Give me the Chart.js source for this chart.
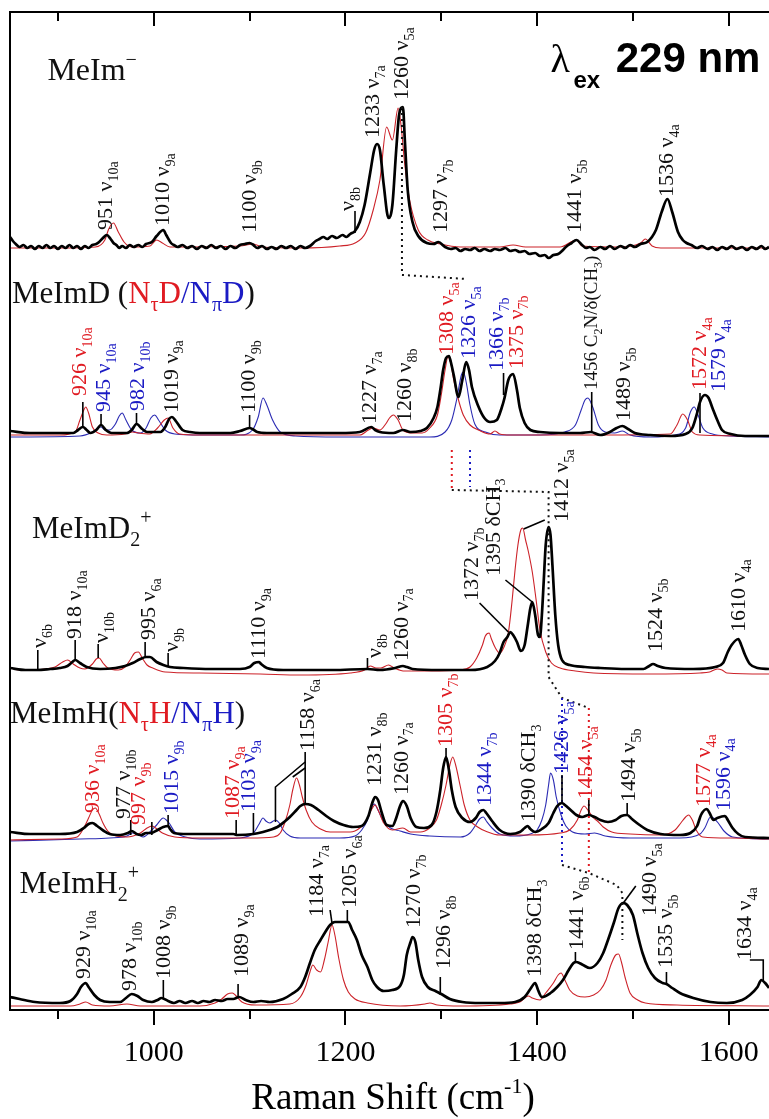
<!DOCTYPE html>
<html><head><meta charset="utf-8">
<script src="https://cdn.jsdelivr.net/npm/chart.js@4.4.0/dist/chart.umd.min.js"></script>
<style>html,body{margin:0;padding:0;background:#fff;}canvas{display:block;}</style>
</head><body>
<canvas id="c" width="769" height="1119"></canvas>
<script>
// ---------- axis ----------
const xTicks = [900,1000,1100,1200,1300,1400,1500,1600];
const tickLabels = ['1000','1200','1400','1600'];

// ---------- spectra [Raman shift cm-1, intensity (stacked, a.u.)] ----------
const meIm_exp = [[850,773],[853,769],[856,766],[860,763],[864,765],[868,762],[872,764],[876,761],[880,764],[884,762],[888,765],[892,762],[896,764],[900,761],[904,764],[908,762],[912,765],[916,762],[920,764],[924,761],[928,764],[932,762],[936,765],[940,766],[943,768],[947,772],[951,775],[955,771],[958,767],[961,765],[964,762],[967,764],[971,762],[975,765],[979,763],[984,765],[988,763],[992,766],[998,768],[1003,774],[1010,780],[1013,775],[1018,767],[1021,765],[1025,763],[1030,765],[1035,762],[1040,764],[1045,761],[1050,764],[1055,762],[1060,765],[1065,762],[1070,764],[1075,761],[1080,764],[1085,762],[1090,765],[1095,766],[1100,767],[1104,765],[1108,762],[1113,764],[1118,761],[1123,763],[1128,761],[1133,764],[1138,762],[1143,764],[1148,761],[1153,764],[1158,762],[1163,764],[1169,769],[1173,771],[1177,773],[1181,771],[1186,774],[1191,772],[1197,775],[1201,773],[1205,776],[1210,779],[1215,788],[1220,805],[1226,838],[1230,860],[1233,866],[1236,860],[1240,825],[1245,792],[1249,805],[1253,860],[1256,895],[1260,903],[1262,870],[1265,820],[1270,788],[1276,774],[1285,767],[1292,766],[1297,768],[1304,763],[1310,761],[1315,762],[1320,759],[1325,761],[1330,760],[1335,762],[1340,759],[1345,761],[1351,759],[1356,761],[1361,760],[1367,762],[1372,759],[1377,760],[1382,758],[1387,759],[1392,756],[1398,757],[1403,754],[1408,755],[1412,752],[1417,755],[1422,756],[1426,759],[1430,763],[1436,767],[1441,770],[1447,765],[1451,762],[1455,763],[1460,760],[1466,763],[1471,761],[1476,764],[1481,761],[1487,764],[1492,762],[1497,765],[1502,763],[1508,766],[1515,768],[1524,780],[1530,798],[1536,811],[1541,798],[1547,778],[1552,770],[1556,767],[1561,765],[1567,762],[1572,764],[1578,761],[1583,763],[1588,760],[1593,763],[1598,761],[1603,764],[1608,761],[1614,763],[1619,760],[1624,763],[1629,761],[1634,764],[1638,761],[1642,763]];
const meIm_calc = [[850,762],[902,762],[939,763],[949,770],[953,781],[958,787],[963,778],[969,768],[977,763],[996,764],[1003,770],[1009,767],[1017,763],[1090,764],[1104,766],[1113,763],[1153,762],[1194,764],[1210,767],[1221,777],[1229,800],[1236,830],[1243,883],[1249,870],[1255,902],[1258,885],[1262,845],[1267,810],[1276,780],[1286,770],[1299,766],[1320,763],[1361,763],[1375,765],[1388,763],[1424,763],[1441,770],[1447,764],[1487,763],[1508,767],[1513,771],[1520,764],[1529,762],[1642,762]];

const meImD_exp = [[850,579],[871,577],[902,577],[916,577],[921,580],[926,583],[930,580],[934,577],[940,580],[945,585],[950,580],[956,577],[972,577],[977,580],[982,586],[988,581],[993,578],[1007,578],[1012,583],[1016,591],[1019,593],[1023,589],[1030,580],[1038,578],[1048,577],[1080,577],[1090,579],[1100,582],[1103,581],[1108,578],[1118,577],[1153,577],[1194,577],[1215,578],[1227,583],[1231,580],[1236,578],[1250,577],[1260,580],[1268,578],[1278,579],[1285,582],[1292,592],[1296,603],[1299,620],[1302,640],[1305,652],[1308,654],[1310,648],[1313,635],[1318,613],[1322,630],[1326,648],[1329,640],[1332,623],[1339,603],[1345,592],[1351,588],[1358,590],[1363,602],[1366,612],[1370,630],[1375,636],[1379,620],[1382,602],[1387,587],[1393,580],[1403,578],[1424,577],[1445,577],[1456,578],[1466,575],[1476,578],[1483,582],[1489,584],[1495,581],[1502,577],[1518,575],[1539,574],[1555,576],[1562,582],[1567,597],[1570,608],[1575,615],[1579,612],[1583,602],[1588,590],[1593,580],[1602,576],[1617,574],[1642,574]];
const meImD_NtD = [[850,575],[902,575],[918,578],[923,590],[927,600],[929,603],[932,597],[936,583],[942,577],[951,575],[970,576],[978,578],[984,577],[996,576],[1004,582],[1011,590],[1015,592],[1020,582],[1027,576],[1048,575],[1153,575],[1215,575],[1224,580],[1229,582],[1236,580],[1242,586],[1246,592],[1250,595],[1255,590],[1260,580],[1270,577],[1280,577],[1288,582],[1296,595],[1300,615],[1304,640],[1307,653],[1310,647],[1313,630],[1318,610],[1323,595],[1330,585],[1341,579],[1351,576],[1356,579],[1361,576],[1372,575],[1466,575],[1539,576],[1546,585],[1552,596],[1557,590],[1562,578],[1570,575],[1642,574]];
const meImD_NpD = [[850,573],[923,574],[936,578],[942,582],[945,583],[949,580],[954,580],[960,586],[964,594],[967,597],[971,590],[977,580],[986,577],[992,582],[997,592],[1001,595],[1005,590],[1012,580],[1022,576],[1048,575],[1090,575],[1103,580],[1109,593],[1114,612],[1118,605],[1124,590],[1132,578],[1148,574],[1194,573],[1288,573],[1304,578],[1311,590],[1316,610],[1321,635],[1323,638],[1326,628],[1330,605],[1335,586],[1346,578],[1361,575],[1403,575],[1429,578],[1440,585],[1446,600],[1450,610],[1453,612],[1458,603],[1464,585],[1471,578],[1481,577],[1489,579],[1497,575],[1518,573],[1544,575],[1555,582],[1560,598],[1564,603],[1568,595],[1573,582],[1583,576],[1601,574],[1642,573]];

const meImD2_exp = [[850,342],[866,340],[878,340],[892,341],[902,342],[910,344],[915,348],[918,350],[923,347],[930,343],[944,341],[960,342],[970,344],[978,347],[986,351],[992,353],[996,353],[1003,348],[1010,345],[1017,343],[1031,342],[1059,341],[1090,341],[1100,343],[1105,347],[1110,348],[1112,346],[1118,342],[1135,340],[1187,340],[1223,341],[1236,340],[1252,342],[1260,344],[1264,343],[1270,341],[1299,340],[1330,340],[1348,343],[1356,349],[1361,357],[1365,368],[1369,373],[1372,378],[1375,375],[1379,368],[1383,359],[1387,365],[1390,383],[1393,402],[1395,408],[1398,395],[1401,375],[1403,373],[1405,395],[1407,430],[1409,465],[1412,483],[1414,475],[1416,445],[1419,395],[1422,365],[1426,350],[1434,345],[1450,343],[1466,342],[1492,341],[1511,341],[1517,344],[1521,346],[1526,344],[1534,342],[1563,341],[1586,343],[1594,347],[1599,358],[1603,365],[1610,371],[1613,365],[1617,355],[1622,346],[1630,342],[1642,341]];
const meImD2_calc = [[850,342],[860,340],[887,341],[897,343],[905,348],[910,350],[916,346],[923,342],[928,341],[936,346],[940,351],[943,352],[947,347],[952,342],[963,340],[970,343],[976,351],[980,357],[984,358],[988,352],[993,345],[999,342],[1012,338],[1048,337],[1111,336],[1153,335],[1205,337],[1220,340],[1226,344],[1232,342],[1237,342],[1245,345],[1251,342],[1262,339],[1288,339],[1320,340],[1330,343],[1337,352],[1343,365],[1346,374],[1350,377],[1352,372],[1356,363],[1361,357],[1365,362],[1370,377],[1374,410],[1377,440],[1380,465],[1383,480],[1385,482],[1388,470],[1391,458],[1395,438],[1399,410],[1403,380],[1409,358],[1415,347],[1424,342],[1440,339],[1459,337],[1518,336],[1570,337],[1580,338],[1588,341],[1593,340],[1598,337],[1642,336]];

const meImH_exp = [[850,178],[871,176],[902,176],[920,178],[927,182],[932,186],[936,187],[941,184],[948,179],[954,176],[965,175],[973,177],[977,179],[982,176],[987,175],[992,177],[997,177],[1004,180],[1010,183],[1015,184],[1017,181],[1021,177],[1035,176],[1059,176],[1083,176],[1087,175],[1104,176],[1114,178],[1121,180],[1129,183],[1136,188],[1142,193],[1149,200],[1153,204],[1158,206],[1164,205],[1172,200],[1180,194],[1188,189],[1198,185],[1208,183],[1217,184],[1224,194],[1228,207],[1231,213],[1234,210],[1238,197],[1243,185],[1249,184],[1253,192],[1257,204],[1260,209],[1264,204],[1268,192],[1274,183],[1282,182],[1290,185],[1295,198],[1299,220],[1302,242],[1305,253],[1308,240],[1311,220],[1315,203],[1322,192],[1330,188],[1336,192],[1340,198],[1344,200],[1347,197],[1353,189],[1361,180],[1372,176],[1382,178],[1387,182],[1390,184],[1393,181],[1398,178],[1405,181],[1412,187],[1417,197],[1421,204],[1426,207],[1429,205],[1435,200],[1441,195],[1447,193],[1454,195],[1460,193],[1466,190],[1474,188],[1482,190],[1488,194],[1494,195],[1499,191],[1507,185],[1515,180],[1529,176],[1549,175],[1560,177],[1567,184],[1571,195],[1577,201],[1580,197],[1584,190],[1588,192],[1596,194],[1599,190],[1604,182],[1610,176],[1617,173],[1642,172]];
const meImH_NtH = [[850,170],[902,171],[920,173],[927,182],[932,192],[936,200],[939,202],[943,196],[947,187],[952,179],[958,175],[972,173],[986,177],[993,182],[998,184],[1002,182],[1009,177],[1022,173],[1048,172],[1100,172],[1125,173],[1132,177],[1137,188],[1142,205],[1145,220],[1149,232],[1152,225],[1155,213],[1159,200],[1165,188],[1174,181],[1184,178],[1205,178],[1215,182],[1222,190],[1227,200],[1231,205],[1235,198],[1240,187],[1249,180],[1260,182],[1268,178],[1278,178],[1288,182],[1295,190],[1300,205],[1305,225],[1309,245],[1312,253],[1315,245],[1320,223],[1324,205],[1330,190],[1338,183],[1346,179],[1361,175],[1392,175],[1424,177],[1434,180],[1442,190],[1446,200],[1449,204],[1453,200],[1458,193],[1464,188],[1469,183],[1478,178],[1497,176],[1529,175],[1544,180],[1550,187],[1555,193],[1558,195],[1562,190],[1566,180],[1573,173],[1602,172],[1642,171]];
const meImH_NpH = [[850,169],[923,171],[954,172],[972,174],[978,177],[984,175],[989,173],[998,180],[1003,185],[1010,192],[1013,190],[1016,187],[1022,178],[1033,173],[1048,171],[1090,172],[1104,177],[1110,186],[1114,192],[1117,189],[1121,187],[1127,190],[1131,187],[1135,180],[1142,174],[1153,172],[1194,172],[1210,174],[1217,180],[1223,190],[1227,202],[1230,206],[1234,200],[1239,190],[1247,182],[1257,179],[1268,176],[1288,174],[1320,173],[1330,177],[1336,185],[1340,191],[1344,193],[1347,189],[1353,182],[1361,176],[1377,174],[1393,176],[1400,180],[1405,190],[1409,205],[1412,225],[1414,237],[1417,230],[1420,213],[1425,195],[1430,184],[1437,178],[1450,176],[1460,177],[1471,174],[1497,172],[1549,172],[1570,176],[1575,182],[1581,193],[1584,192],[1589,187],[1595,179],[1604,173],[1642,171]];

const meImH2_exp = [[850,13],[860,11],[876,8],[902,7],[913,9],[920,16],[924,23],[929,27],[932,23],[938,15],[944,10],[954,8],[965,8],[971,12],[977,16],[983,14],[989,10],[998,8],[1004,10],[1008,12],[1015,9],[1021,7],[1027,9],[1033,7],[1040,9],[1046,7],[1052,9],[1058,8],[1064,10],[1071,9],[1077,11],[1083,11],[1089,13],[1096,10],[1104,8],[1112,9],[1121,8],[1135,11],[1144,16],[1153,23],[1158,33],[1163,47],[1168,60],[1174,70],[1179,78],[1184,85],[1189,88],[1196,88],[1203,88],[1207,80],[1212,70],[1217,55],[1223,43],[1228,30],[1233,23],[1240,19],[1249,20],[1257,24],[1261,35],[1264,55],[1268,68],[1270,73],[1273,68],[1276,50],[1280,33],[1286,23],[1294,19],[1300,16],[1309,11],[1322,8],[1341,7],[1361,7],[1377,8],[1387,13],[1393,21],[1398,27],[1401,20],[1405,13],[1414,17],[1421,23],[1427,30],[1433,40],[1438,47],[1441,48],[1448,45],[1455,42],[1463,47],[1469,57],[1474,70],[1480,87],[1485,102],[1490,107],[1494,105],[1500,95],[1505,75],[1510,57],[1516,42],[1523,32],[1531,27],[1535,26],[1541,22],[1549,17],[1563,12],[1581,8],[1598,7],[1614,10],[1622,15],[1630,23],[1634,30],[1638,27],[1642,22]];
const meImH2_calc = [[850,4],[913,4],[923,6],[929,8],[936,5],[954,4],[972,6],[986,4],[1048,4],[1064,7],[1071,11],[1077,16],[1082,17],[1086,14],[1092,8],[1106,5],[1142,6],[1153,13],[1159,25],[1163,38],[1166,45],[1170,40],[1174,38],[1178,50],[1182,68],[1186,85],[1189,75],[1193,52],[1198,30],[1203,18],[1210,11],[1223,7],[1257,4],[1283,6],[1288,7],[1296,5],[1320,4],[1372,6],[1382,8],[1391,14],[1395,12],[1403,10],[1409,17],[1417,27],[1422,35],[1425,37],[1429,30],[1434,20],[1442,14],[1450,13],[1459,15],[1466,20],[1472,30],[1477,45],[1482,55],[1485,56],[1488,48],[1492,32],[1497,17],[1505,10],[1513,7],[1546,5],[1642,4]];

// ---------- annotations: [text, shift, intensity at text start, colour, (font px)] ----------
const labels = [
 ["951 ν_{10a}",949,780,'k'],["1010 ν_{9a}",1008,784,'k'],["1100 ν_{9b}",1099,777,'k'],["ν_{8b}",1201,799,'k'],
 ["1233 ν_{7a}",1227,872,'k'],["1260 ν_{5a}",1258,910,'k'],["1297 ν_{7b}",1298,777,'k'],["1441 ν_{5b}",1438,777,'k'],["1536 ν_{4a}",1534,813,'k'],
 ["926 ν_{10a}",922,614,'r'],["945 ν_{10a}",947,598,'b'],["982 ν_{10b}",982,599,'b'],["1019 ν_{9a}",1017,597,'k'],["1100 ν_{9b}",1098,597,'k'],
 ["1227 ν_{7a}",1224,586,'k'],["1260 ν_{8b}",1261,588,'k'],["1308 ν_{5a}",1304,655,'r'],["1326 ν_{5a}",1327,651,'b'],["1366 ν_{7b}",1357,639,'b'],
 ["1375 ν_{7b}",1377,641,'r'],["1456 C_{2}N/δ(CH_{3})",1456,620,'k',19],["1489 ν_{5b}",1489,589,'k'],["1572 ν_{4a}",1568,620,'r'],["1579 ν_{4a}",1588,618,'b'],
 ["ν_{6b}",880,362,'k'],["918 ν_{10a}",916,371,'k'],["ν_{10b}",944,367,'k'],["995 ν_{6a}",994,370,'k'],["ν_{9b}",1018,358,'k'],["1110 ν_{9a}",1108,351,'k'],
 ["ν_{8b}",1229,352,'k'],["1260 ν_{7a}",1257,349,'k'],["1372 ν_{7b}",1331,409,'k'],["1395 δCH_{3}",1353,434,'k'],["1412 ν_{5a}",1424,488,'k'],
 ["1524 ν_{5b}",1523,358,'k'],["1610 ν_{4a}",1609,378,'k'],
 ["936 ν_{10a}",935,197,'r'],["977 ν_{10b}",967,191,'k'],["997 ν_{9b}",983,185,'r'],["1015 ν_{9b}",1018,196,'b'],["1087 ν_{9a}",1081,191,'r'],
 ["1103 ν_{9a}",1098,198,'b'],["1158 ν_{6a}",1159,259,'k'],["1231 ν_{8b}",1229,224,'k'],["1260 ν_{7a}",1257,215,'k'],["1305 ν_{7b}",1303,263,'r'],
 ["1344 ν_{7b}",1344,204,'b'],["1390 δCH_{3}",1390,188,'k'],["1426 ν_{5a}",1424,236,'b'],["1454 ν_{5a}",1450,211,'r'],["1494 ν_{5b}",1494,208,'k'],
 ["1577 ν_{4a}",1573,203,'r'],["1596 ν_{4a}",1593,199,'b'],
 ["929 ν_{10a}",926,31,'k'],["978 ν_{10b}",974,19,'k'],["1008 ν_{9b}",1009,31,'k'],["1089 ν_{9a}",1091,33,'k'],["1184 ν_{7a}",1169,93,'k'],
 ["1205 ν_{6a}",1203,102,'k'],["1270 ν_{7b}",1270,82,'k'],["1296 ν_{8b}",1301,41,'k'],["1398 δCH_{3}",1396,33,'k'],["1441 ν_{6b}",1440,60,'k'],
 ["1490 ν_{5a}",1516,94,'k'],["1535 ν_{5b}",1533,42,'k'],["1634 ν_{4a}",1615,50,'k']
];
const leaders = [
 [[1210,777],[1210,799]],
 [[926,584],[926,608]],[[945,585],[945,596]],[[982,586],[982,597]],[[1100,582],[1100,595]],[[1365,615],[1365,637]],[[1457,578],[1457,618]],[[1570,577],[1570,617]],
 [[879,340],[879,360]],[[918,350],[918,370]],[[942,352],[942,366]],[[991,353],[991,368]],[[1015,343],[1015,357]],[[1223,340],[1223,352]],
 [[1340,407],[1370,378]],[[1367,430],[1395,408]],[[1386,481],[1408,490]],
 [[976,175],[976,190]],[[998,175],[998,188]],[[1015,184],[1015,195]],[[1086,175],[1086,190]],[[1104,177],[1104,197]],
 [[1158,258],[1158,206]],[[1158,248],[1127,223],[1127,188]],[[1158,242],[1145,233]],[[1305,253],[1305,262]],[[1426,207],[1426,235]],
 [[1454,195],[1454,210]],[[1494,195],[1494,207]],
 [[1010,11],[1010,30]],[[1088,13],[1088,26]],[[1186,87],[1184,100]],[[1202,88],[1202,100]],[[1299,15],[1299,33]],[[1440,48],[1440,58]],
 [[1490,107],[1503,124]],[[1535,25],[1535,38]],[[1622,50],[1636,50],[1636,30]]
];
const dotted = [
 ['k',[[1259,903],[1259,735],[1327,731]]],
 ['r',[[1311,560],[1311,520]]],['b',[[1330,560],[1330,523]]],
 ['k',[[1311,520],[1412,518],[1412,333],[1426,312],[1454,302]]],
 ['b',[[1426,312],[1426,145]]],['r',[[1454,302],[1454,138]]],
 ['k',[[1426,145],[1454,137],[1483,125],[1489,117],[1489,70]]]
];
const titles = [
 [889,930,32,[['MeIm','k'],['−','k','sup']]],
 [852,707,31,[['MeImD (','k'],['N','r'],['τ','r','sub'],['D','r'],['/','b'],['N','b'],['π','b','sub'],['D','b'],[')','k']]],
 [873,472,31,[['MeImD','k'],['2','k','sub'],['+','k','sup']]],
 [850,287,31,[['MeImH(','k'],['N','r'],['τ','r','sub'],['H','r'],['/','b'],['N','b'],['π','b','sub'],['H','b'],[')','k']]],
 [860,117,31,[['MeImH','k'],['2','k','sub'],['+','k','sup']]]
];

const COL = {k:'#111111', r:'#e01b22', b:'#1b1bc4'};
const SERIF = '"Liberation Serif","Times New Roman",serif';
const SANS = '"Liberation Sans",Arial,sans-serif';

function parse(t){
  const out=[]; const re=/_\{([^}]*)\}/g; let last=0,m;
  while((m=re.exec(t))){ if(m.index>last) out.push([t.slice(last,m.index),null]); out.push([m[1],'sub']); last=re.lastIndex; }
  if(last<t.length) out.push([t.slice(last),null]);
  return out;
}
function rich(ctx,px,py,parts,size,rot,color){
  ctx.save(); ctx.translate(px,py); if(rot) ctx.rotate(-Math.PI/2);
  ctx.textBaseline='alphabetic'; ctx.textAlign='left';
  let cx=0; const base = rot? size*0.34 : 0;
  for(const p of parts){
    const t=p[0], mode=rot? p[1] : p[2];
    const fs = mode ? Math.round(size*0.64) : size;
    ctx.font = fs+'px '+SERIF;
    ctx.fillStyle = color ? color : COL[p[1]];
    const dy = mode==='sub' ? size*0.27 : mode==='sup' ? -size*0.45 : 0;
    ctx.fillText(t,cx,base+dy);
    cx += ctx.measureText(t).width;
  }
  ctx.restore();
}

const annot = {
  id:'annot',
  afterDatasetsDraw(chart){
    const {ctx, chartArea:a, scales:{x,y}} = chart;
    const X=v=>x.getPixelForValue(v), Y=v=>y.getPixelForValue(v);
    ctx.save();
    ctx.strokeStyle='#000'; ctx.lineWidth=2; ctx.lineCap='butt';
    ctx.beginPath();
    ctx.moveTo(a.right,a.bottom); ctx.lineTo(a.left,a.bottom); ctx.lineTo(a.left,a.top); ctx.lineTo(a.right,a.top);
    ctx.stroke();
    ctx.beginPath();
    xTicks.forEach(v=>{const p=Math.round(X(v)); const maj=tickLabels.includes(String(v));
      ctx.moveTo(p,a.top); ctx.lineTo(p,a.top+(maj?14:9));
      ctx.moveTo(p,a.bottom); ctx.lineTo(p,a.bottom+(maj?15:9));});
    ctx.stroke();
    ctx.lineWidth=2; ctx.setLineDash([2,4]);
    dotted.forEach(([c,pts])=>{ctx.strokeStyle=COL[c]; ctx.beginPath(); pts.forEach((q,i)=>{i?ctx.lineTo(X(q[0]),Y(q[1])):ctx.moveTo(X(q[0]),Y(q[1]));}); ctx.stroke();});
    ctx.setLineDash([]);
    ctx.strokeStyle='#000'; ctx.lineWidth=1.6;
    leaders.forEach(pts=>{ctx.beginPath(); pts.forEach((q,i)=>{i?ctx.lineTo(X(q[0]),Y(q[1])):ctx.moveTo(X(q[0]),Y(q[1]));}); ctx.stroke();});
    labels.forEach(([t,sx,sy,c,fs])=>rich(ctx,X(sx),Y(sy),parse(t),fs||22,true,COL[c]));
    titles.forEach(([sx,sy,fs,parts])=>rich(ctx,X(sx),Y(sy),parts,fs,false,null));
    ctx.fillStyle='#000'; ctx.textBaseline='alphabetic';
    ctx.font='40px '+SERIF; ctx.fillText('λ',X(1414),Y(938));
    ctx.font='bold 24px '+SANS; ctx.fillText('ex',X(1438),Y(922));
    ctx.font='bold 42px '+SANS; ctx.fillText('229 nm',X(1482),Y(938));
    ctx.font='37px '+SERIF;
    const t1='Raman Shift (cm', t2='-1', t3=')';
    const w1=ctx.measureText(t1).width, w3=ctx.measureText(t3).width;
    ctx.font='22px '+SERIF; const w2=ctx.measureText(t2).width;
    let sx = 393-(w1+w2+w3)/2; const by=1109;
    ctx.font='37px '+SERIF; ctx.fillText(t1,sx,by);
    ctx.font='22px '+SERIF; ctx.fillText(t2,sx+w1,by-16);
    ctx.font='37px '+SERIF; ctx.fillText(t3,sx+w1+w2,by);
    ctx.restore();
  }
};

const mk=(pts,color,w)=>({data:pts.map(p=>({x:p[0],y:p[1]})),borderColor:color,borderWidth:w,pointRadius:0,fill:false,cubicInterpolationMode:'monotone'});
const K='#000000', R='#cc2229', B='#2b2bb3';
const datasets=[
  mk(meIm_exp,K,2.7),mk(meImD_exp,K,2.7),mk(meImD2_exp,K,2.7),mk(meImH_exp,K,2.7),mk(meImH2_exp,K,2.7),
  mk(meIm_calc,R,1.1),mk(meImD_NtD,R,1.1),mk(meImD2_calc,R,1.1),mk(meImH_NtH,R,1.1),mk(meImH2_calc,R,1.1),
  mk(meImD_NpD,B,1.1),mk(meImH_NpH,B,1.1)
];

new Chart(document.getElementById('c'),{
  type:'line',
  data:{datasets},
  options:{
    responsive:false, animation:false, devicePixelRatio:1,
    layout:{padding:{left:10,right:0,top:12,bottom:23}},
    plugins:{legend:{display:false},tooltip:{enabled:false},title:{display:false}},
    scales:{
      x:{type:'linear',min:850,max:1642,
         afterBuildTicks:ax=>{ax.ticks=xTicks.map(v=>({value:v}));},
         afterFit:ax=>{ax.paddingLeft=0; ax.paddingRight=0;},
         ticks:{callback:v=>tickLabels.includes(String(v))?String(v):'',autoSkip:false,maxRotation:0,padding:25,color:'#000',font:{family:SERIF,size:30}},
         grid:{display:false,drawTicks:false},border:{display:false}},
      y:{display:false,min:0,max:998}
    }
  },
  plugins:[annot]
});
</script>
</body></html>
